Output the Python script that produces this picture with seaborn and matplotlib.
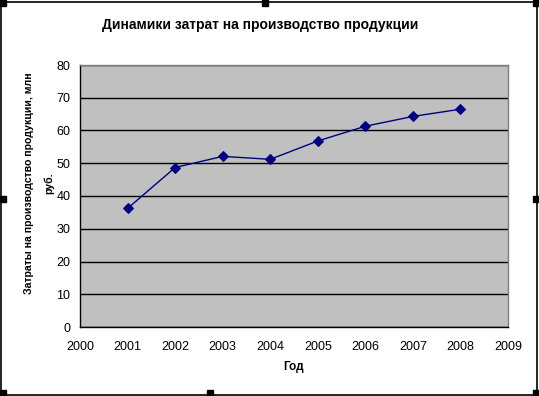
import matplotlib
matplotlib.use("Agg")
import matplotlib.pyplot as plt
import seaborn as sns
import pandas as pd
from matplotlib.patches import Rectangle

years = [2001, 2002, 2003, 2004, 2005, 2006, 2007, 2008]
costs = [36.2, 48.7, 52.1, 51.2, 56.8, 61.3, 64.3, 66.5]
x_ticks = [2000, 2001, 2002, 2003, 2004, 2005, 2006, 2007, 2008, 2009]
y_ticks = [0, 10, 20, 30, 40, 50, 60, 70, 80]

title = "Динамики затрат на производство продукции"
x_label = "Год"
y_label = "Затраты на производство продукции, млн\nруб."

sns.set_style("white")
plt.rcParams["font.family"] = ["Liberation Sans", "DejaVu Sans"]
plt.rcParams.update({"text.color": "black", "axes.labelcolor": "black",
                     "xtick.color": "black", "ytick.color": "black"})

df = pd.DataFrame({"year": years, "cost": costs})

fig = plt.figure(figsize=(5.39, 3.96), dpi=100)
W, H = 539, 396
ax = fig.add_axes([80 / W, 1 - 327 / H, (508 - 80) / W, (327 - 65) / H])
ax.set_facecolor("#C0C0C0")

sns.lineplot(data=df, x="year", y="cost", ax=ax, color="#000080",
             linewidth=1, marker="D", markersize=5, markeredgecolor="#000080")

ax.set_xlim(2000, 2009)
ax.set_ylim(0, 80)
ax.set_xticks(x_ticks)
ax.set_yticks(y_ticks)
ax.yaxis.grid(True, color="black", linewidth=1)
ax.set_axisbelow(True)
ax.tick_params(axis="both", labelsize=9, length=4, width=1, color="black",
               direction="out")
ax.tick_params(axis="x", pad=6)
ax.tick_params(axis="y", pad=3)

for side in ["left", "bottom"]:
    ax.spines[side].set_color("black")
    ax.spines[side].set_linewidth(1)
for side in ["top", "right"]:
    ax.spines[side].set_color("#808080")
    ax.spines[side].set_linewidth(1)

ax.set_xlabel(x_label, fontsize=8.5, fontweight="bold", va="top")
ax.xaxis.set_label_coords(0.498, (327 - 361) / 262)
ax.set_ylabel(y_label, fontsize=7.6, fontweight="bold", linespacing=2.1)
ax.yaxis.set_label_coords((54 - 80) / 428, (327 - 183) / 262)
fig.text(260 / W, 1 - 25 / H, title, ha="center", va="center",
         fontsize=10, fontweight="bold")

# chart border with selection handles
fig.patches.append(Rectangle((1 / W, 1 / H), 536 / W, 393 / H, fill=False,
                             edgecolor="black", linewidth=1.2,
                             transform=fig.transFigure))
for hx, hy in [(0, 0), (262, 0), (533, 0), (0, 196), (533, 196),
               (0, 390), (207, 390), (533, 390)]:
    fig.patches.append(Rectangle((hx / W, 1 - (hy + 6) / H), 6 / W, 6 / H,
                                 color="black", transform=fig.transFigure))

fig.savefig("out.png", dpi=100)
